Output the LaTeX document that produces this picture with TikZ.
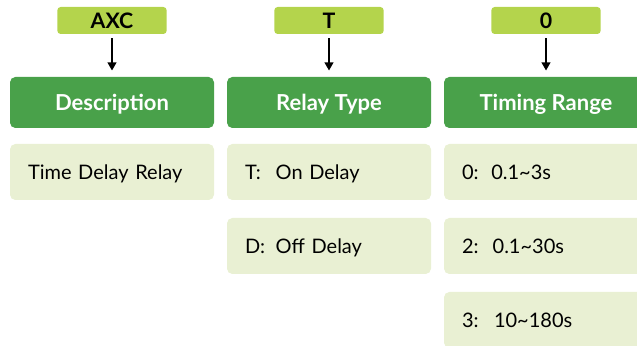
\documentclass[tikz,border=0pt]{standalone}
\usepackage{fontspec}
\setmainfont{Lato}
\usetikzlibrary{arrows.meta}

\definecolor{headgreen}{RGB}{73,161,74}
\definecolor{codelime}{RGB}{180,212,76}
\definecolor{itempale}{RGB}{233,240,211}

\tikzset{every picture/.style={line width=0.75pt}}

\begin{document}
\begin{tikzpicture}[x=0.75pt,y=0.75pt,yscale=-1,xscale=1,
  codebox/.style={fill=codelime, rounded corners=2.5pt, minimum width=82pt, minimum height=20.25pt, inner sep=0pt, text height=11.5pt, text depth=0pt, font=\bfseries\fontsize{16}{19}\selectfont},
  headbox/.style={fill=headgreen, text=white, rounded corners=4pt, minimum width=153pt, minimum height=38.25pt, inner sep=0pt, text height=11.9pt, text depth=0pt, font=\bfseries\fontsize{16.5}{19}\selectfont},
  itembox/.style={fill=itempale, rounded corners=4pt, minimum height=42pt, text width=126pt, inner xsep=13.5pt, inner ysep=0pt, text height=10.8pt, text depth=0pt, align=left, font=\fontsize{15}{18}\selectfont},
  codearrow/.style={-{Triangle[width=6.5pt,length=6pt]}, line width=1.1pt, shorten <=3pt, shorten >=4.5pt}]
%set diagram size 637 x 346
\useasboundingbox (0,0) rectangle (637,346);
\clip (0,0) rectangle (637,346);

%Rounded Rect: code letters
\node [codebox] (axc) at (112,20.5) {AXC};
\node [codebox] (typecode) at (329,20.5) {T};
\node [codebox] (rangecode) at (546,20.5) {0};

%Rounded Rect: headers
\node [headbox] (desc) at (112,102.5) {Description};
\node [headbox] (relaytype) at (329,102.5) {Relay Type};
\node [headbox] (timing) at (546,102.5) {Timing Range};

%Straight Lines
\draw [codearrow] (axc) -- (desc);
\draw [codearrow] (typecode) -- (relaytype);
\draw [codearrow] (rangecode) -- (timing);

% Text Node
\node [itembox] (tdr) at (112,172) {Time Delay Relay};
% Text Node
\node [itembox] (ondelay) at (329,172) {\makebox[23pt][l]{T:}On Delay};
% Text Node
\node [itembox] (offdelay) at (329,246) {\makebox[23pt][l]{D:}Off Delay};
% Text Node
\node [itembox] (range0) at (546,172) {\makebox[22pt][l]{0:}0.1\textasciitilde3s};
% Text Node
\node [itembox] (range2) at (546,246) {\makebox[23pt][l]{2:}0.1\textasciitilde30s};
% Text Node
\node [itembox] (range3) at (546,320) {\makebox[24pt][l]{3:}10\textasciitilde180s};

\end{tikzpicture}
\end{document}
